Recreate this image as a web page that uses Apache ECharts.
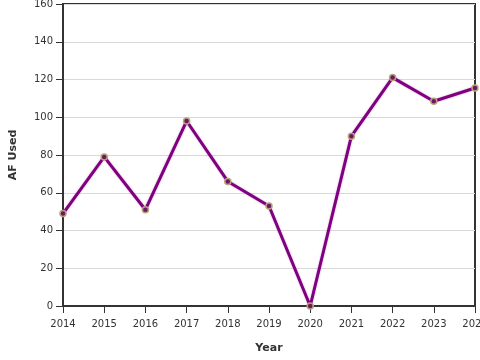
<!DOCTYPE html>
<html><head><meta charset="utf-8">
<script src="https://cdn.jsdelivr.net/npm/echarts@6/dist/echarts.min.js"></script>
<style>html,body{margin:0;padding:0;background:#fff}#c{width:480px;height:360px}</style>
</head><body><div id="c"></div>
<script>
const years = ['2014','2015','2016','2017','2018','2019','2020','2021','2022','2023','2024'];
const afUsed = [49, 79, 51, 98, 66, 53, 0, 90, 121, 108.5, 115.5];
const yTicks = {min: 0, max: 160, interval: 20};

const chart = echarts.init(document.getElementById('c'));
chart.setOption({
  animation: false,
  backgroundColor: '#fff',
  grid: {left: 63, right: 5, top: 4, bottom: 54, containLabel: false, outerBoundsMode: 'none', show: true, borderColor: '#333', borderWidth: 2, backgroundColor: 'transparent'},
  xAxis: {
    type: 'category', data: years, boundaryGap: false,
    name: 'Year', nameLocation: 'middle', nameGap: 37,
    nameTextStyle: {fontFamily: 'DejaVu Sans', fontSize: 11, fontWeight: 'bold', color: '#333'},
    axisLine: {lineStyle: {color: '#333', width: 2}},
    axisTick: {alignWithLabel: true, length: 7, lineStyle: {color: '#333', width: 1}},
    axisLabel: {fontFamily: 'DejaVu Sans', fontSize: 10, color: '#333', margin: 13, interval: 0, showMaxLabel: true, hideOverlap: false},
    splitLine: {show: false}
  },
  yAxis: {
    type: 'value', min: yTicks.min, max: yTicks.max, interval: yTicks.interval,
    name: 'AF Used', nameLocation: 'middle', nameGap: 44,
    nameTextStyle: {fontFamily: 'DejaVu Sans', fontSize: 11, fontWeight: 'bold', color: '#333'},
    axisLine: {show: true, lineStyle: {color: '#333', width: 2}},
    axisTick: {show: true, length: 7, lineStyle: {color: '#333', width: 1}},
    axisLabel: {fontFamily: 'DejaVu Sans', fontSize: 10, color: '#333', margin: 10},
    splitLine: {show: true, lineStyle: {color: '#d9d9d9', width: 1}}
  },
  series: [{
    type: 'line', data: afUsed,
    lineStyle: {color: '#800080', width: 3, shadowColor: 'rgba(128,0,128,0.35)', shadowBlur: 2},
    symbol: 'circle', symbolSize: 6,
    itemStyle: {color: '#6a1a5e', borderColor: '#b8a27c', borderWidth: 1.5},
    z: 3
  }]
});
</script></body></html>
